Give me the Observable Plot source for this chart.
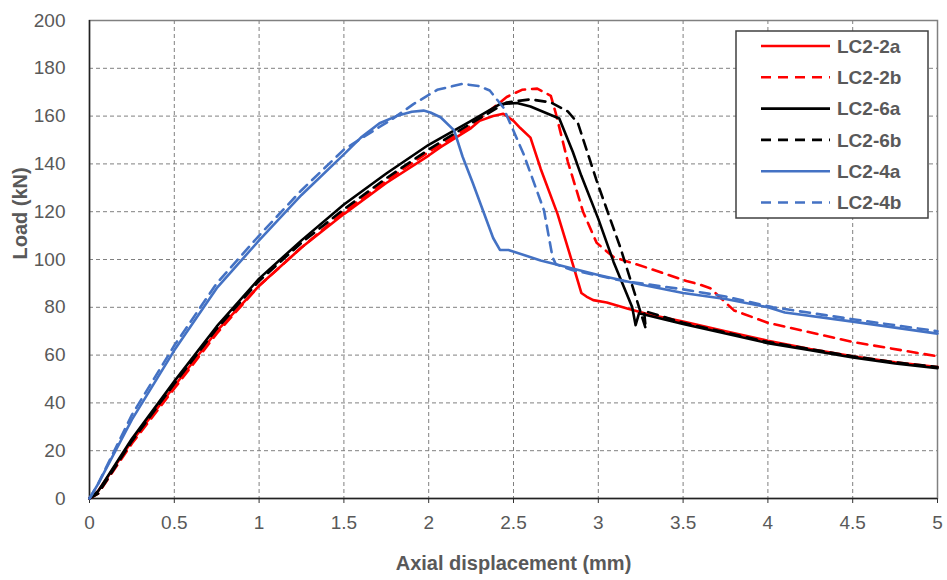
<!DOCTYPE html>
<html><head><meta charset="utf-8">
<script src="https://cdn.jsdelivr.net/npm/d3@7"></script>
<script src="https://cdn.jsdelivr.net/npm/@observablehq/plot@0.6"></script>
<style>body{margin:0;background:#fff;}</style>
</head><body><div id="chart"></div>
<script>
const seriesNames = ["LC2-2a", "LC2-2b", "LC2-6a", "LC2-6b", "LC2-4a", "LC2-4b"];
const seriesColors = ["#ff0000", "#ff0000", "#000000", "#000000", "#4472c4", "#4472c4"];
const seriesDashed = [false, true, false, true, false, true];
const xTicks = [0, 0.5, 1, 1.5, 2, 2.5, 3, 3.5, 4, 4.5, 5];
const yTicks = [0, 20, 40, 60, 80, 100, 120, 140, 160, 180, 200];

const lc22a_x = [0,0.05,0.25,0.5,0.75,1,1.25,1.5,1.75,2,2.07,2.25,2.3,2.38,2.44,2.5,2.54,2.6,2.66,2.76,2.85,2.9,2.93,2.97,3.05,3.17,3.3,3.5,3.75,4,4.25,4.5,4.75,5];
const lc22a_y = [0,3,24,47,70,89,105,119,132,143.5,147,155,158,160,161,158,155,151,138,119,98,86,84.5,83,82,79.5,77,74,70,66,62.5,59.5,57,55];

const lc22b_x = [0,0.05,0.25,0.5,0.75,1,1.25,1.5,1.75,2,2.25,2.46,2.55,2.64,2.72,2.75,2.82,2.91,2.99,3.09,3.29,3.52,3.6,3.66,3.72,3.8,4,4.5,5];
const lc22b_y = [0,2,23,46,69,89,105,120,133,145,156,168,171,171.5,168.5,161,141,120,107,101,96.5,91,89.5,88,84,78.7,73.5,65.5,59.5];

const lc26a_x = [0,0.05,0.25,0.5,0.75,1,1.25,1.5,1.75,2,2.25,2.42,2.52,2.6,2.77,2.85,2.9,3.0,3.09,3.2,3.22,3.24,3.5,3.75,4,4.25,4.5,4.75,5];
const lc26a_y = [0,3,25,49,72,92,108,123,136,148,158,165,165.5,164,159,145,135,117,99,80,72.5,77.5,73,69,65,62,59,56.5,54.5];

const lc26b_x = [0,0.05,0.25,0.5,0.75,1,1.25,1.5,1.75,2,2.25,2.46,2.6,2.72,2.82,2.88,2.99,3.13,3.28,3.27,3.5,3.75,4,4.25,4.5,4.75,5];
const lc26b_y = [0,2,24,48,71,91,107,121,134,146,157,165.7,167,165.7,162,157,133,105,71,78.5,73.5,69.5,65.5,62.5,59.5,57,55];

const lc24a_x = [0,0.05,0.25,0.5,0.75,1,1.25,1.5,1.6,1.71,1.81,1.9,1.97,2.01,2.07,2.15,2.2,2.26,2.32,2.38,2.42,2.47,2.66,3.0,3.25,3.5,3.75,4,4.1,4.5,5];
const lc24a_y = [0,6,33,62,88,108,127,144,151,157,160,161.8,162.3,161.5,159.5,154,143,132,120.5,109,104,104,99.6,93.5,89.5,86,83.5,80,77.8,74,69];

const lc24b_x = [0,0.05,0.25,0.5,0.75,1,1.25,1.5,1.71,1.77,1.91,2.05,2.2,2.3,2.36,2.44,2.56,2.68,2.73,2.75,2.85,3.15,3.5,3.75,4.03,4.5,5];
const lc24b_y = [0,6,35,64,90,110,129,146,155.5,158,165,171,173.5,172.5,170.7,163.6,144,120.5,101,98,95.5,91,87.5,84.5,80,75,70];

const xs = [lc22a_x, lc22b_x, lc26a_x, lc26b_x, lc24a_x, lc24b_x];
const ys = [lc22a_y, lc22b_y, lc26a_y, lc26b_y, lc24a_y, lc24b_y];

const textColor = "#595959";
const lineMarks = seriesNames.map((name, k) => {
  const rows = xs[k].map((x, i) => ({x, y: ys[k][i]}));
  return Plot.line(rows, {x: "x", y: "y", stroke: seriesColors[k], strokeWidth: 2.6,
    strokeDasharray: seriesDashed[k] ? "10,7" : null, curve: "linear"});
});

const chart = Plot.plot({
  width: 947, height: 580,
  marginLeft: 89, marginRight: 10, marginTop: 20, marginBottom: 82,
  style: {fontFamily: "'Liberation Sans', Arial, sans-serif", color: textColor, background: "#fff", overflow: "visible"},
  x: {domain: [0, 5]},
  y: {domain: [0, 200]},
  marks: [
    Plot.gridX(xTicks.filter(d => d > 0 && d < 5), {stroke: "#808080", strokeOpacity: 1, strokeDasharray: "4,3"}),
    Plot.gridY(yTicks.filter(d => d > 0 && d < 200), {stroke: "#808080", strokeOpacity: 1, strokeDasharray: "4,3"}),
    Plot.frame({stroke: "#808080", strokeWidth: 1.5}),
    Plot.axisX({ticks: xTicks, tickSize: 5, tickPadding: 12, fontSize: 19, label: null, tickFormat: d => String(d), stroke: "#333"}),
    Plot.axisY({ticks: yTicks, tickSize: 0, tickPadding: 24, fontSize: 19, label: null}),
    Plot.ruleX([0], {stroke: "#222", strokeWidth: 1.5}),
    Plot.ruleY([0], {stroke: "#222", strokeWidth: 1.5}),
    ...lineMarks,
    Plot.text(["Axial displacement (mm)"], {frameAnchor: "bottom", lineAnchor: "middle", dy: 65, fontSize: 20, fontWeight: "bold", fill: textColor}),
    Plot.text(["Load (kN)"], {frameAnchor: "left", lineAnchor: "middle", dx: -69, rotate: -90, fontSize: 20, fontWeight: "bold", fill: textColor})
  ]
});

// Legend box inside the SVG
const svg = d3.select(chart);
const lg = svg.append("g").attr("transform", "translate(736,31)");
lg.append("rect").attr("x", 0).attr("y", 0).attr("width", 192).attr("height", 187)
  .attr("fill", "#fff").attr("stroke", "#404040").attr("stroke-width", 1.5);
seriesNames.forEach((name, k) => {
  const yy = 15 + k * 31.3;
  lg.append("line").attr("x1", 25).attr("x2", 94).attr("y1", yy).attr("y2", yy)
    .attr("stroke", seriesColors[k]).attr("stroke-width", 2.6)
    .attr("stroke-dasharray", seriesDashed[k] ? "10,7" : null);
  lg.append("text").attr("x", 101).attr("y", yy).attr("dy", "0.36em")
    .attr("text-anchor", "start")
    .attr("font-size", 19).attr("font-weight", "bold").attr("fill", textColor)
    .attr("font-family", "'Liberation Sans', Arial, sans-serif").text(name);
});

document.getElementById("chart").appendChild(chart);
</script>
</body></html>
